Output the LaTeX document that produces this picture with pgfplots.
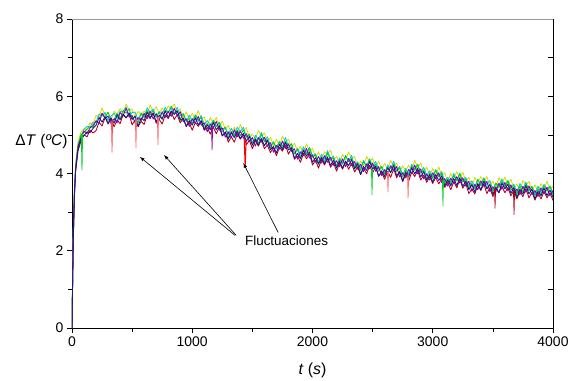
\documentclass[border=0pt]{standalone}
\usepackage{fontspec}
\setmainfont{Liberation Sans}
\usepackage{pgfplots}
\usepackage{pgfplotstable}
\pgfplotsset{compat=1.18}
\definecolor{cY}{RGB}{225,215,0}
\definecolor{cC}{RGB}{0,200,230}
\definecolor{cG}{RGB}{0,210,40}
\definecolor{cR}{RGB}{175,0,25}
\definecolor{cM}{RGB}{140,0,175}
\definecolor{cN}{RGB}{25,25,130}
\pgfplotstableread{
t y c g r m n
0 0 0 0 0 0 0
5 1.3 1.25 1.2 1.1 1.15 1.1
10 2.4 2.35 2.3 2.2 2.28 2.22
20 3.6 3.55 3.5 3.4 3.45 3.42
30 4.25 4.2 4.15 4.05 4.12 4.08
50 4.82 4.74 4.72 4.58 4.69 4.62
75 5.08 4.98 5.01 4.84 4.93 4.91
100 5.16 5.14 5.06 5.0 5.1 4.98
125 5.12 5.22 5.15 4.95 5.03 5.08
150 5.32 5.2 5.22 5.12 5.18 5.06
175 5.25 5.33 5.19 5.05 5.24 5.17
200 5.51 5.32 5.37 5.11 5.36 5.25
225 5.45 5.54 5.31 5.33 5.30 5.45
250 5.70 5.49 5.56 5.23 5.56 5.33
275 5.49 5.58 5.45 5.45 5.42 5.47
300 5.59 5.37 5.59 5.31 5.49 5.28
325 5.39 5.49 5.36 5.41 5.29 5.44
350 5.61 5.56 5.40 5.21 5.42 5.30
375 5.52 5.42 5.56 5.39 5.31 5.52
400 5.68 5.61 5.41 5.29 5.58 5.39
425 5.56 5.59 5.64 5.52 5.49 5.54
450 5.80 5.72 5.56 5.44 5.69 5.44
475 5.63 5.49 5.68 5.54 5.46 5.57
500 5.67 5.58 5.43 5.26 5.50 5.40
525 5.47 5.59 5.48 5.39 5.31 5.48
550 5.61 5.38 5.31 5.21 5.45 5.22
575 5.49 5.55 5.57 5.35 5.37 5.44
600 5.62 5.44 5.47 5.27 5.56 5.37
625 5.52 5.70 5.63 5.51 5.42 5.59
650 5.78 5.59 5.51 5.42 5.61 5.45
675 5.60 5.67 5.63 5.57 5.41 5.55
700 5.73 5.45 5.46 5.30 5.55 5.34
725 5.56 5.60 5.59 5.40 5.39 5.51
750 5.70 5.53 5.40 5.28 5.60 5.41
775 5.56 5.71 5.64 5.52 5.45 5.62
800 5.75 5.57 5.57 5.42 5.61 5.45
825 5.66 5.70 5.74 5.60 5.48 5.62
850 5.80 5.55 5.56 5.40 5.69 5.53
875 5.59 5.71 5.63 5.52 5.50 5.62
900 5.67 5.50 5.41 5.31 5.60 5.38
925 5.42 5.55 5.54 5.43 5.34 5.43
950 5.60 5.35 5.35 5.23 5.42 5.21
975 5.41 5.51 5.42 5.32 5.22 5.37
1000 5.56 5.37 5.29 5.12 5.42 5.25
1025 5.41 5.49 5.52 5.32 5.30 5.44
1050 5.63 5.35 5.38 5.22 5.48 5.26
1075 5.42 5.50 5.45 5.35 5.25 5.37
1100 5.46 5.27 5.18 5.12 5.31 5.13
1125 5.23 5.37 5.29 5.19 5.08 5.26
1150 5.45 5.25 5.18 5.02 5.28 5.13
1175 5.30 5.38 5.37 5.20 5.19 5.32
1200 5.45 5.22 5.22 5.03 5.35 5.13
1225 5.22 5.32 5.33 5.20 5.12 5.24
1250 5.35 5.08 5.13 4.97 5.18 4.98
1275 5.15 5.19 5.20 5.08 4.94 5.06
1300 5.24 5.01 4.93 4.81 5.08 4.89
1325 5.04 5.17 5.09 4.95 4.93 5.06
1350 5.20 5.01 4.97 4.81 5.13 4.93
1375 5.05 5.20 5.12 5.03 4.95 5.09
1400 5.27 5.08 4.98 4.89 5.10 4.90
1425 5.09 5.20 5.13 5.02 4.91 5.04
1450 5.19 4.94 4.94 4.74 5.03 4.84
1475 4.92 5.01 5.02 4.86 4.83 4.96
1500 5.02 4.78 4.79 4.64 4.93 4.73
1525 4.90 4.99 4.92 4.85 4.71 4.89
1550 5.11 4.88 4.78 4.71 4.93 4.73
1575 4.98 5.06 5.02 4.88 4.81 4.91
1600 5.05 4.84 4.82 4.64 4.94 4.72
1625 4.80 4.95 4.88 4.74 4.71 4.86
1650 4.94 4.72 4.66 4.54 4.80 4.62
1675 4.72 4.81 4.82 4.67 4.55 4.70
1700 4.89 4.64 4.67 4.46 4.73 4.53
1725 4.72 4.83 4.82 4.68 4.63 4.76
1750 4.96 4.70 4.66 4.58 4.84 4.62
1775 4.81 4.93 4.84 4.74 4.65 4.81
1800 4.89 4.71 4.66 4.50 4.77 4.61
1825 4.66 4.77 4.77 4.65 4.57 4.67
1850 4.79 4.50 4.52 4.37 4.64 4.39
1875 4.58 4.65 4.62 4.45 4.37 4.52
1900 4.70 4.50 4.42 4.29 4.56 4.38
1925 4.53 4.69 4.62 4.52 4.46 4.60
1950 4.77 4.53 4.50 4.38 4.65 4.45
1975 4.57 4.68 4.66 4.51 4.40 4.56
2000 4.65 4.46 4.42 4.22 4.48 4.29
2025 4.42 4.51 4.49 4.34 4.29 4.41
2050 4.56 4.29 4.27 4.14 4.44 4.24
2075 4.37 4.50 4.43 4.36 4.27 4.41
2100 4.56 4.37 4.29 4.22 4.46 4.25
2125 4.48 4.59 4.54 4.39 4.29 4.43
2150 4.61 4.38 4.34 4.16 4.42 4.21
2175 4.34 4.45 4.41 4.28 4.21 4.35
2200 4.44 4.19 4.17 4.06 4.33 4.14
2225 4.26 4.40 4.37 4.27 4.18 4.32
2250 4.50 4.28 4.24 4.11 4.38 4.14
2275 4.36 4.47 4.45 4.30 4.18 4.32
2300 4.56 4.31 4.31 4.11 4.39 4.20
2325 4.38 4.47 4.39 4.26 4.21 4.36
2350 4.44 4.20 4.15 4.04 4.31 4.12
2375 4.17 4.30 4.28 4.17 4.11 4.25
2400 4.32 4.14 4.08 3.97 4.24 3.98
2425 4.20 4.34 4.31 4.14 4.05 4.18
2450 4.44 4.16 4.19 3.99 4.25 4.08
2475 4.30 4.38 4.36 4.21 4.12 4.31
2500 4.40 4.19 4.13 4.02 4.27 4.11
2525 4.16 4.31 4.24 4.16 4.06 4.19
2550 4.32 4.11 4.06 3.93 4.18 3.93
2575 4.11 4.19 4.18 4.03 3.94 4.07
2600 4.26 4.00 3.99 3.85 4.10 3.92
2625 4.10 4.22 4.17 4.05 3.96 4.15
2650 4.34 4.12 4.03 3.90 4.20 4.02
2675 4.19 4.32 4.25 4.12 4.07 4.21
2700 4.27 4.06 4.06 3.89 4.18 3.94
2725 4.05 4.18 4.15 4.03 3.91 4.05
2750 4.20 3.97 3.91 3.79 4.02 3.81
2775 4.06 4.13 4.08 3.98 3.89 4.03
2800 4.22 3.98 3.94 3.81 4.11 3.91
2825 4.09 4.24 4.19 4.04 3.99 4.15
2850 4.34 4.11 4.08 3.92 4.22 3.99
2875 4.15 4.23 4.24 4.08 3.99 4.13
2900 4.27 4.02 4.01 3.83 4.12 3.91
2925 4.02 4.16 4.09 3.96 3.86 4.05
2950 4.17 3.95 3.86 3.77 3.99 3.83
2975 3.95 4.07 4.01 3.92 3.83 3.97
3000 4.13 3.91 3.87 3.74 4.02 3.78
3025 3.95 4.10 4.08 3.90 3.87 3.97
3050 4.17 3.94 3.91 3.73 4.02 3.82
3075 3.95 4.05 4.00 3.87 3.76 3.94
3100 4.02 3.78 3.73 3.64 3.87 3.68
3125 3.78 3.90 3.86 3.77 3.67 3.83
3150 4.00 3.79 3.73 3.58 3.88 3.68
3175 3.87 4.00 3.95 3.79 3.74 3.87
3200 4.05 3.81 3.81 3.63 3.92 3.69
3225 3.87 3.99 4.01 3.85 3.75 3.89
3250 4.03 3.79 3.78 3.62 3.89 3.67
3275 3.80 3.90 3.85 3.74 3.67 3.80
3300 3.90 3.67 3.62 3.48 3.80 3.58
3325 3.67 3.81 3.74 3.60 3.54 3.71
3350 3.90 3.66 3.60 3.47 3.72 3.52
3375 3.77 3.85 3.84 3.71 3.58 3.74
3400 3.92 3.68 3.70 3.56 3.81 3.58
3425 3.77 3.89 3.87 3.73 3.67 3.80
3450 3.92 3.71 3.62 3.48 3.80 3.60
3475 3.68 3.82 3.73 3.63 3.53 3.71
3500 3.80 3.56 3.54 3.40 3.66 3.46
3525 3.62 3.75 3.75 3.62 3.53 3.65
3550 3.89 3.65 3.63 3.50 3.75 3.50
3575 3.75 3.86 3.80 3.67 3.59 3.75
3600 3.91 3.67 3.64 3.50 3.77 3.60
3625 3.70 3.82 3.81 3.64 3.55 3.72
3650 3.85 3.62 3.57 3.42 3.71 3.49
3675 3.61 3.72 3.66 3.57 3.48 3.63
3700 3.73 3.50 3.46 3.34 3.60 3.38
3725 3.57 3.74 3.68 3.55 3.45 3.59
3750 3.82 3.60 3.52 3.40 3.67 3.47
3775 3.70 3.78 3.74 3.61 3.51 3.69
3800 3.79 3.55 3.56 3.37 3.68 3.47
3825 3.55 3.67 3.66 3.52 3.45 3.60
3850 3.71 3.47 3.43 3.31 3.56 3.34
3875 3.54 3.67 3.60 3.50 3.40 3.54
3900 3.74 3.51 3.46 3.34 3.63 3.42
3925 3.59 3.72 3.68 3.54 3.47 3.62
3950 3.80 3.58 3.54 3.37 3.65 3.43
3975 3.59 3.68 3.66 3.50 3.42 3.57
4000 3.67 3.49 3.45 3.30 3.56 3.38
}\data
\begin{document}
\begin{tikzpicture}
\pgfplotsset{every axis/.append style={
  width=481bp, height=309bp, scale only axis,
  xmin=0, xmax=4000, ymin=0, ymax=8,
  axis line style={-, line width=0.8bp},
  tick style={black, line width=0.7bp},
  major tick length=5bp, minor tick length=4bp,
  tick label style={font=\fontsize{14}{16}\selectfont},
  /pgf/number format/assume math mode=true,
}}
\begin{axis}[name=ax,
  axis x line*=bottom, axis y line*=left,
  tick align=outside,
  xtick={0,1000,2000,3000,4000}, minor xtick={500,1500,2500,3500},
  ytick={0,2,4,6,8}, minor ytick={1,3,5,7},
  scaled x ticks=false,
  xticklabel style={/pgf/number format/1000 sep={}},
  xlabel={\fontsize{16}{18}\selectfont\textit{t} (\textit{s})},
  xlabel style={at={(rel axis cs:0.5,0)}, anchor=center, yshift=-42bp},
  ylabel={\fontsize{15.5}{18}\selectfont Δ\textit{T} (\textit{ºC})},
  ylabel style={rotate=-90, at={(rel axis cs:0,0.602)}, anchor=east, xshift=-1bp},
  every axis plot/.append style={line width=0.85bp, line join=round},
  clip=true,
]
\addplot[cY] table[x=t,y=y]{\data};
\addplot[cC] table[x=t,y=c]{\data};
\addplot[cG] table[x=t,y=g]{\data};
\addplot[cR] table[x=t,y=r]{\data};
\addplot[cM] table[x=t,y=m]{\data};
\addplot[cN] table[x=t,y=n]{\data};
% narrow downward fluctuations
\addplot[cG] coordinates {(78,5.0) (83,4.09) (88,5.02)};
\addplot[red!70, line width=0.7bp] coordinates {(328,5.35) (333,4.55) (338,5.38)};
\addplot[red!60, line width=0.7bp] coordinates {(527,5.4) (532,4.66) (537,5.42)};
\addplot[red!60, line width=0.7bp] coordinates {(710,5.45) (715,4.74) (720,5.47)};
\addplot[cM, line width=0.7bp] coordinates {(1160,5.18) (1165,4.61) (1170,5.2)};
\addplot[red, line width=1bp] coordinates {(1432,4.9) (1440,4.17) (1448,4.85)};
\addplot[cG, line width=0.7bp] coordinates {(2490,4.1) (2495,3.45) (2500,4.12)};
\addplot[red!60, line width=0.7bp] coordinates {(2623,4.05) (2628,3.52) (2633,4.07)};
\addplot[red!60, line width=0.7bp] coordinates {(2790,3.95) (2795,3.37) (2800,3.97)};
\addplot[cG, line width=0.7bp] coordinates {(3080,3.82) (3085,3.16) (3090,3.84)};
\addplot[cR, line width=0.7bp] coordinates {(3513,3.6) (3518,3.1) (3523,3.62)};
\addplot[cR, line width=0.7bp] coordinates {(3671,3.55) (3676,2.93) (3681,3.57)};
\node[anchor=west, font=\fontsize{13.5}{15}\selectfont] at (axis cs:1410,2.25) {Fluctuaciones};
\draw[-latex, line width=0.6bp] (axis cs:1355,2.4) -- (axis cs:565,4.43);
\draw[-latex, line width=0.6bp] (axis cs:1365,2.4) -- (axis cs:765,4.48);
\draw[-latex, line width=0.6bp] (axis cs:1715,2.47) -- (axis cs:1425,4.27);
\end{axis}
\begin{axis}[
  axis y line*=right, axis x line=none,
  tick align=inside,
  ytick={0,1,...,8}, yticklabels={},
]
\end{axis}
\draw[gray!80, line width=0.8bp] (ax.north west) -- (ax.north east);
\pgfresetboundingbox
\path ([shift={(-72bp,-53bp)}]ax.south west) rectangle ([shift={(25bp,19bp)}]ax.north east);
\end{tikzpicture}
\end{document}
